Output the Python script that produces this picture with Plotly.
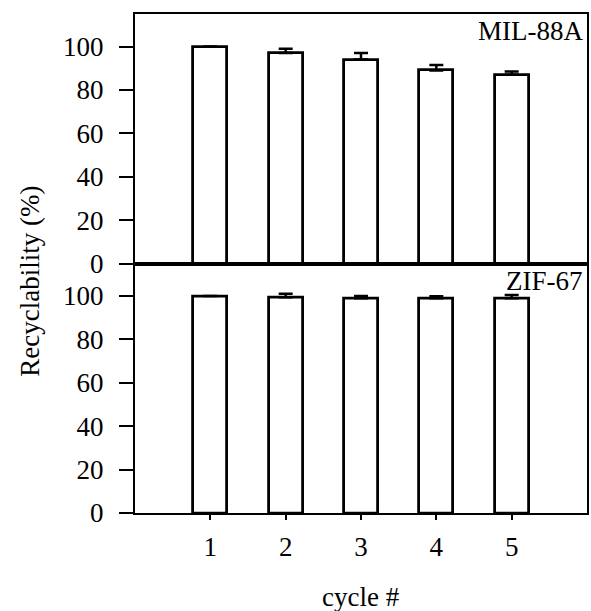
import plotly.graph_objects as go
from plotly.subplots import make_subplots

cycles = [1, 2, 3, 4, 5]
mil_vals = [100, 97, 94, 89, 87]
mil_err = [0, 2, 3, 2.5, 1.5]
zif_vals = [100, 99.5, 99, 99, 99]
zif_err = [0, 1.6, 1.0, 0.9, 1.5]
tick_vals = [0, 20, 40, 60, 80, 100]

FONT = "Liberation Serif, Times New Roman, serif"
FS = 27

fig = make_subplots(rows=2, cols=1, shared_xaxes=True, vertical_spacing=0)

def add(vals, err, row):
    fig.add_trace(go.Bar(
        x=cycles, y=vals, width=0.45,
        marker=dict(color="white", line=dict(color="black", width=2.8)),
        error_y=dict(type="data", array=err, arrayminus=[0]*len(err),
                     symmetric=False, color="black", thickness=2.5, width=7),
        showlegend=False), row=row, col=1)

add(mil_vals, mil_err, 1)
add(zif_vals, zif_err, 2)

axis_common = dict(showline=True, linecolor="black", linewidth=2, mirror=True,
                   showgrid=False, zeroline=False)

for r in (1, 2):
    fig.update_yaxes(range=[0, 115], tickvals=tick_vals, ticks="outside", ticklen=14,
                     tickwidth=2, tickcolor="black", ticklabelstandoff=10,
                     tickfont=dict(family=FONT, size=FS, color="black"),
                     row=r, col=1, **axis_common)
fig.update_xaxes(range=[0, 6], row=1, col=1, showticklabels=False, ticks="", **axis_common)
fig.update_xaxes(range=[0, 6], row=2, col=1, tickvals=cycles, ticks="outside", ticklen=5,
                 tickwidth=2, tickcolor="black", ticklabelstandoff=4,
                 tickfont=dict(family=FONT, size=FS, color="black"), **axis_common)

fig.add_annotation(text="MIL-88A", xref="paper", yref="paper", x=0.995, y=1.0,
                   xanchor="right", yanchor="top", showarrow=False,
                   font=dict(family=FONT, size=FS, color="black"))
fig.add_annotation(text="ZIF-67", xref="paper", yref="paper", x=0.995, y=0.5,
                   xanchor="right", yanchor="top", showarrow=False,
                   font=dict(family=FONT, size=FS, color="black"))
fig.add_annotation(text="Recyclability (%)", xref="paper", yref="paper", x=-0.233, y=0.465,
                   xanchor="center", yanchor="middle", textangle=-90, showarrow=False,
                   font=dict(family=FONT, size=FS, color="black"))
fig.add_annotation(text="cycle #", xref="paper", yref="paper", x=0.5, y=-0.135,
                   xanchor="center", yanchor="top", showarrow=False,
                   font=dict(family=FONT, size=FS, color="black"))

fig.update_layout(width=591, height=611, margin=dict(l=135, r=2, t=14, b=98),
                  plot_bgcolor="white", paper_bgcolor="white", bargap=0)

fig.write_html("out.html")
